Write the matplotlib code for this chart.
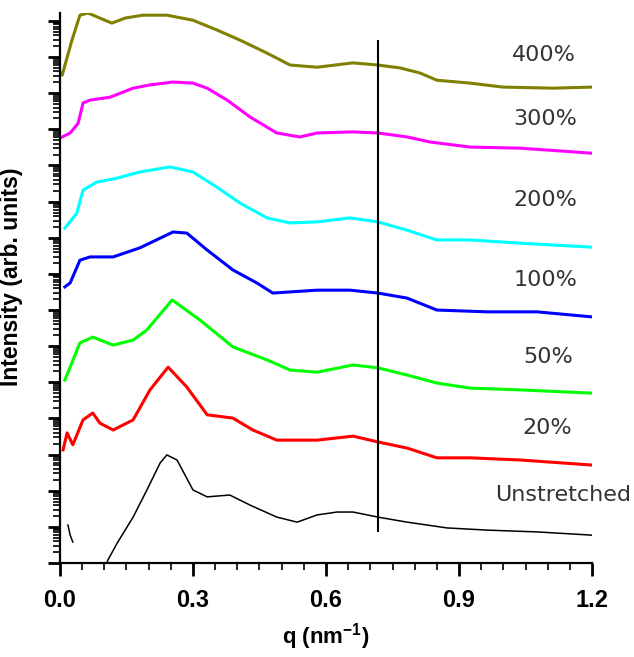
import numpy as np
import matplotlib
matplotlib.use("Agg")
import matplotlib.pyplot as plt
from matplotlib.ticker import LogLocator, MultipleLocator, NullFormatter

plt.rcParams["mathtext.default"] = "regular"

# scattering curves, offset in decades; intensity kept as log10 values
q_400 = [0.0, 0.005, 0.027, 0.045, 0.063, 0.090, 0.117, 0.147, 0.187, 0.241, 0.300, 0.354,
         0.406, 0.467, 0.519, 0.580, 0.661, 0.717, 0.767, 0.812, 0.850, 0.925, 0.999, 1.112, 1.2]
log_i_400 = [13.59, 13.50, 14.47, 15.16, 15.22, 15.08, 14.94, 15.08, 15.16, 15.16, 15.02, 14.75,
             14.47, 14.11, 13.78, 13.72, 13.84, 13.78, 13.70, 13.56, 13.36, 13.28, 13.17, 13.14, 13.17]

q_300 = [0.0, 0.023, 0.041, 0.052, 0.068, 0.113, 0.165, 0.203, 0.255, 0.300, 0.332, 0.377,
         0.429, 0.489, 0.541, 0.580, 0.661, 0.717, 0.783, 0.835, 0.925, 1.038, 1.2]
log_i_300 = [11.76, 11.90, 12.17, 12.73, 12.81, 12.89, 13.14, 13.23, 13.31, 13.28, 13.14, 12.81,
             12.34, 11.90, 11.79, 11.90, 11.93, 11.90, 11.79, 11.65, 11.51, 11.48, 11.34]

q_200 = [0.011, 0.038, 0.052, 0.083, 0.129, 0.180, 0.248, 0.300, 0.354, 0.406, 0.467, 0.519,
         0.580, 0.654, 0.717, 0.783, 0.850, 0.925, 1.038, 1.2]
log_i_200 = [9.27, 9.68, 10.32, 10.54, 10.65, 10.82, 10.96, 10.82, 10.40, 9.96, 9.55, 9.41,
             9.44, 9.55, 9.44, 9.21, 8.94, 8.94, 8.85, 8.74]

q_100 = [0.011, 0.023, 0.045, 0.068, 0.120, 0.180, 0.255, 0.286, 0.332, 0.390, 0.444, 0.480,
         0.580, 0.654, 0.717, 0.783, 0.850, 0.963, 1.076, 1.2]
log_i_100 = [7.64, 7.75, 8.38, 8.47, 8.47, 8.72, 9.16, 9.13, 8.66, 8.11, 7.75, 7.47,
             7.55, 7.55, 7.47, 7.33, 7.00, 6.95, 6.95, 6.81]

q_50 = [0.011, 0.045, 0.074, 0.120, 0.165, 0.196, 0.253, 0.316, 0.390, 0.467, 0.519, 0.580,
        0.661, 0.717, 0.783, 0.850, 0.925, 1.038, 1.2]
log_i_50 = [5.06, 6.09, 6.25, 6.03, 6.17, 6.45, 7.28, 6.72, 5.98, 5.62, 5.34, 5.28,
            5.48, 5.40, 5.20, 4.98, 4.84, 4.79, 4.70]

q_20 = [0.007, 0.016, 0.029, 0.052, 0.074, 0.090, 0.120, 0.165, 0.203, 0.244, 0.286, 0.332,
        0.390, 0.435, 0.489, 0.580, 0.661, 0.717, 0.783, 0.850, 0.925, 1.038, 1.2]
log_i_20 = [3.13, 3.60, 3.27, 3.96, 4.15, 3.87, 3.68, 3.96, 4.79, 5.42, 4.87, 4.10,
            4.01, 3.68, 3.40, 3.40, 3.51, 3.35, 3.18, 2.91, 2.91, 2.85, 2.71]

# unstretched: short segment near the beam stop, then the main curve
q_un_a = [0.018, 0.023, 0.029]
log_i_un_a = [1.05, 0.77, 0.58]
q_un = [0.102, 0.108, 0.129, 0.165, 0.196, 0.226, 0.241, 0.264, 0.300, 0.332, 0.383, 0.429,
        0.489, 0.535, 0.580, 0.625, 0.661, 0.717, 0.783, 0.873, 0.963, 1.076, 1.2]
log_i_un = [-0.14, 0.08, 0.55, 1.27, 2.02, 2.77, 2.99, 2.85, 2.02, 1.83, 1.88, 1.60,
            1.27, 1.13, 1.33, 1.41, 1.41, 1.27, 1.13, 0.97, 0.91, 0.86, 0.77]

labels = ["400%", "300%", "200%", "100%", "50%", "20%", "Unstretched"]
label_q = [1.020, 1.022, 1.022, 1.022, 1.044, 1.044, 0.981]
label_log_i = [14.06, 12.29, 10.04, 7.83, 5.69, 3.74, 1.88]

x_ticks = [0.0, 0.3, 0.6, 0.9, 1.2]
x_ticklabels = ["0.0", "0.3", "0.6", "0.9", "1.2"]

vline_q = 0.717
vline_log_i = (0.86, 14.47)

fig = plt.figure(figsize=(6.34, 6.57), dpi=100)
ax = fig.add_axes([0.0946, 0.1431, 0.8392, 0.8371])

curves = [
    (q_400, log_i_400, "#808000"),
    (q_300, log_i_300, "#ff00ff"),
    (q_200, log_i_200, "#00ffff"),
    (q_100, log_i_100, "#0000ff"),
    (q_50, log_i_50, "#00ff00"),
    (q_20, log_i_20, "#ff0000"),
]
for q, li, c in curves:
    ax.plot(q, 10 ** np.array(li), color=c, lw=2.2)
ax.plot(q_un_a, 10 ** np.array(log_i_un_a), color="black", lw=1.1)
ax.plot(q_un, 10 ** np.array(log_i_un), color="black", lw=1.1)

ax.vlines(vline_q, 10 ** vline_log_i[0], 10 ** vline_log_i[1], color="black", lw=1.5)

for txt, x, y in zip(labels, label_q, label_log_i):
    ax.text(x, 10 ** y, txt, fontsize=16, color="#333333", ha="left", va="center",
            family="DejaVu Sans")

ax.set_yscale("log")
ax.set_xlim(0, 1.2)
ax.set_ylim(1, 10 ** 15.22)
ax.set_xticks(x_ticks)
ax.set_xticklabels(x_ticklabels, fontsize=17, fontweight="bold", family="Liberation Sans")
ax.xaxis.set_minor_locator(MultipleLocator(0.05))
ax.yaxis.set_major_locator(LogLocator(base=10, numticks=30))
ax.yaxis.set_minor_locator(LogLocator(base=10, subs=np.arange(2, 10), numticks=30))
ax.yaxis.set_major_formatter(NullFormatter())
ax.yaxis.set_minor_formatter(NullFormatter())

for s in ["top", "right"]:
    ax.spines[s].set_visible(False)
for s in ["left", "bottom"]:
    ax.spines[s].set_linewidth(1.6)

ax.tick_params(which="major", direction="out", length=9, width=2)
ax.tick_params(which="minor", direction="out", length=5, width=1.2)
ax.tick_params(axis="x", which="major", pad=10)

ax.set_xlabel("q (nm$^{-1}$)", fontsize=16, fontweight="bold",
              family="Liberation Sans", labelpad=6)
ax.set_ylabel("Intensity (arb. units)", fontsize=16.5, fontweight="bold",
              family="Liberation Sans")
ax.yaxis.set_label_coords(-0.07, 0.52)

fig.savefig("out.png", dpi=100)
